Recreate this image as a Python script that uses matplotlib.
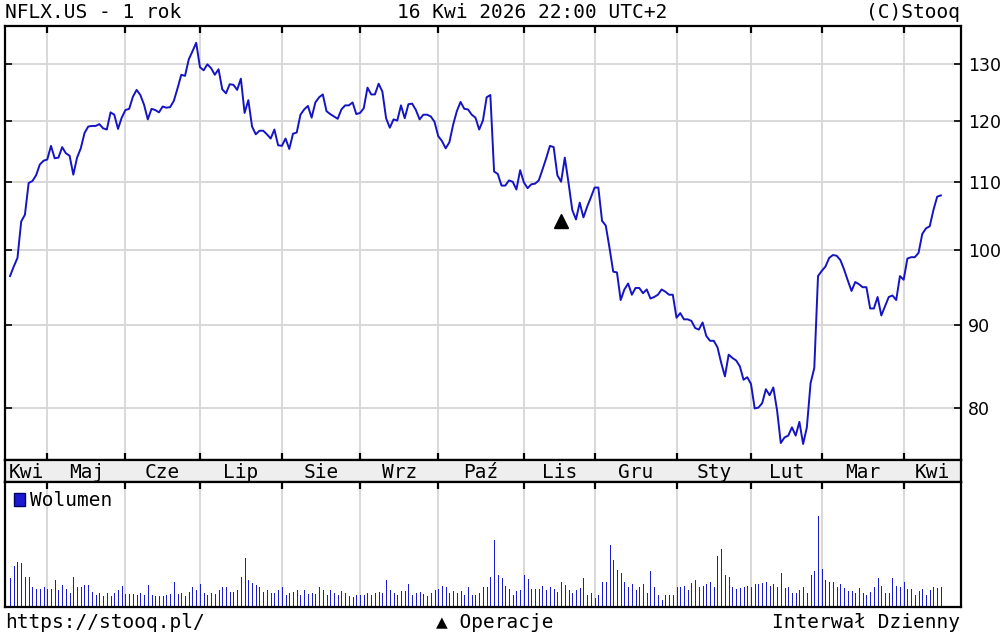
import numpy as np
import matplotlib.pyplot as plt
from matplotlib.patches import Rectangle
from matplotlib.ticker import FixedFormatter, NullLocator

# kursy zamkniecia NFLX.US, sesje od 16.04.2025 do 16.04.2026 (per miesiac)
close_kwi25 = [96.4, 97.7, 98.9, 104.1, 105.1, 109.9, 110.2, 111.1, 112.8, 113.4]
close_maj = [113.6, 115.8, 113.8, 113.9, 115.6, 114.6, 114.2, 111.2, 113.9, 115.4, 117.9,
             119.0, 119.1, 119.1, 119.4, 118.7, 118.5, 121.4, 121.0, 118.6, 120.5]
close_cze = [121.8, 122.0, 124.1, 125.3, 124.4, 122.7, 120.2, 122.0, 121.8, 121.4,
             122.4, 122.2, 122.3, 123.4, 125.6, 128.0, 127.8, 130.8, 132.3, 133.9]
close_lip = [129.4, 128.8, 129.9, 129.2, 128.0, 129.0, 125.4, 124.7, 126.3, 126.2, 125.3,
             127.3, 121.3, 123.5, 119.0, 117.7, 118.3, 118.3, 117.7, 117.0, 118.5, 115.9]
close_sie = [115.8, 117.0, 115.3, 117.8, 118.0, 121.0, 121.9, 122.5, 120.5, 123.1, 124.0,
             124.5, 121.6, 121.1, 120.7, 120.3, 121.9, 122.6, 122.6, 123.1, 121.1]
close_wrz = [121.3, 122.1, 125.7, 124.5, 124.5, 126.4, 125.0, 120.4, 118.8, 120.2, 120.0,
             122.6, 120.4, 122.8, 122.9, 121.8, 120.2, 121.0, 121.0, 120.7, 119.8]
close_paz = [117.4, 116.6, 115.4, 116.4, 119.3, 121.6, 123.2, 122.0, 121.9, 121.0, 120.5,
             118.5, 120.0, 124.0, 124.4, 111.7, 111.3, 109.5, 109.5, 110.3, 110.1, 108.9, 111.9]
close_lis = [110.0, 109.1, 109.7, 109.8, 110.3, 112.0, 113.8, 115.8, 115.6, 111.1,
             110.1, 113.9, 109.9, 105.8, 104.4, 106.9, 104.7, 106.3, 107.7]
close_gru = [109.2, 109.2, 104.2, 103.5, 100.3, 97.0, 96.9, 93.2, 94.6, 95.4, 93.9,
             94.8, 94.8, 94.1, 94.6, 93.4, 93.6, 93.9, 94.6, 94.3, 93.9, 93.9]
close_sty = [90.9, 91.5, 90.7, 90.7, 90.5, 89.6, 89.4, 90.3, 88.6, 88.0,
             88.0, 87.2, 85.3, 83.7, 86.3, 85.9, 85.6, 84.9, 83.3, 83.6]
close_lut = [82.8, 80.0, 80.1, 80.6, 82.2, 81.5, 82.4, 79.8, 76.2, 76.8,
             77.0, 77.9, 77.0, 78.5, 76.1, 77.9, 82.9, 84.7, 96.4]
close_mar = [97.1, 97.7, 98.9, 99.3, 99.2, 98.6, 97.3, 95.8, 94.4, 95.6, 95.3,
             94.9, 94.9, 92.1, 92.1, 93.6, 91.2, 92.4, 93.6, 93.8, 93.2, 96.4]
close_kwi26 = [95.9, 98.8, 99.0, 99.0, 99.6, 102.3, 103.1, 103.4, 105.8, 107.8, 108.0]

# wolumen (jednostki umowne)
vol_kwi25 = [80, 117, 129, 125, 85, 85, 53, 48, 48, 53]
vol_maj = [47, 48, 75, 45, 59, 47, 35, 85, 53, 53, 59, 59, 39, 30, 37, 27, 37, 27, 35, 45, 57]
vol_cze = [32, 32, 32, 29, 35, 29, 59, 30, 27, 27, 27, 29, 32, 69, 32, 37, 27, 38, 53, 45]
vol_lip = [62, 35, 29, 37, 32, 45, 53, 53, 39, 39, 45, 85, 140, 75, 67, 59, 55, 39, 45, 37, 35, 45]
vol_sie = [53, 30, 35, 39, 45, 30, 45, 32, 37, 32, 53, 45, 30, 45, 37, 30, 42, 35, 27, 25, 30]
vol_wrz = [30, 30, 35, 30, 35, 39, 37, 75, 45, 35, 30, 42, 42, 63, 30, 35, 39, 32, 27, 35, 45]
vol_paz = [49, 57, 53, 37, 42, 37, 42, 30, 53, 30, 30, 37, 53, 53, 85, 195, 91, 80, 57, 47, 30, 42, 45]
vol_lis = [90, 77, 48, 48, 48, 57, 45, 53, 48, 40, 70, 60, 45, 35, 45, 52, 80, 30, 35]
vol_gru = [20, 30, 70, 70, 180, 135, 105, 95, 70, 53, 63, 45, 53, 63, 35, 103, 53, 30, 15, 30, 30, 30]
vol_sty = [53, 53, 57, 45, 65, 75, 53, 57, 62, 70, 55, 147, 168, 90, 85, 53, 48, 50, 53, 57]
vol_lut = [53, 62, 62, 65, 70, 57, 62, 53, 97, 50, 53, 37, 37, 45, 53, 35, 90, 103, 267]
vol_mar = [108, 75, 70, 70, 53, 62, 50, 42, 42, 37, 50, 35, 30, 39, 53, 80, 57, 37, 37, 80, 57, 53]
vol_kwi26 = [70, 48, 48, 30, 42, 48, 30, 45, 53, 50, 53]

months = ['Kwi', 'Maj', 'Cze', 'Lip', 'Sie', 'Wrz', 'Paź', 'Lis', 'Gru', 'Sty', 'Lut', 'Mar', 'Kwi']
price_ticks = [80, 90, 100, 110, 120, 130]
split_day, split_mark = 148, 104.2   # operacja (split 10:1)

close_by_month = [close_kwi25, close_maj, close_cze, close_lip, close_sie, close_wrz, close_paz,
                  close_lis, close_gru, close_sty, close_lut, close_mar, close_kwi26]
vol_by_month = [vol_kwi25, vol_maj, vol_cze, vol_lip, vol_sie, vol_wrz, vol_paz,
                vol_lis, vol_gru, vol_sty, vol_lut, vol_mar, vol_kwi26]
close = np.concatenate(close_by_month)
volume = np.concatenate(vol_by_month)
x = np.arange(len(close))
starts = np.cumsum([0] + [len(m) for m in close_by_month])[:-1]
bounds = starts[1:]

W, H = 1005, 640
mono = 'DejaVu Sans Mono'
line_col = '#1414c4'
grid_col = '#d8d8d8'
xlim = (-1.35, 255.4)

fig = plt.figure(figsize=(W / 100, H / 100), dpi=100)
fig.patch.set_facecolor('white')


def box(l, t, r, b):
    return [l / W, 1 - b / H, (r - l) / W, (b - t) / H]


ax = fig.add_axes(box(5, 26, 961, 460))
band = fig.add_axes(box(5, 460, 961, 482))
axv = fig.add_axes(box(5, 482, 961, 607))

# --- cena ---
ax.plot(x, close, color=line_col, lw=1.4, zorder=3)
ax.plot([split_day], [split_mark], marker='^', color='black', markersize=10, zorder=4)
ax.set_yscale('log')
ax.set_ylim(74.4, 137.1)
ax.set_xlim(*xlim)
ax.yaxis.set_minor_locator(NullLocator())
ax.set_yticks(price_ticks)
ax.yaxis.set_major_formatter(FixedFormatter([str(t) for t in price_ticks]))
ax.set_xticks(bounds)
ax.tick_params(axis='y', which='both', direction='in', length=5, width=1.2,
               left=True, right=True, labelleft=False, labelright=True,
               labelsize=12.5, pad=5)
ax.tick_params(axis='x', direction='in', length=5, width=1.6, top=True, bottom=True,
               labelbottom=False)
ax.grid(True, color=grid_col, lw=1.4)
ax.set_axisbelow(True)
for lab in ax.get_yticklabels():
    lab.set_family('DejaVu Sans')

# --- pasek miesiecy ---
band.set_facecolor('#eeeeee')
band.set_xlim(*xlim)
band.set_ylim(0, 1)
band.set_xticks([])
band.set_yticks([])
edges = [xlim[0]] + list(bounds) + [xlim[1]]
for i, m in enumerate(months):
    band.text((edges[i] + edges[i + 1]) / 2, 0.45, m, ha='center', va='center',
              family=mono, fontsize=14)

# --- wolumen ---
axv.vlines(x, 0, volume, color='#1a1ad0', lw=0.6, antialiased=False, zorder=3)
axv.set_xlim(*xlim)
axv.set_ylim(-6, 369)
axv.set_yticks([])
axv.set_xticks(bounds)
axv.tick_params(axis='x', direction='in', length=5, width=1.6, top=True, bottom=False,
                labelbottom=False)
axv.grid(axis='x', color=grid_col, lw=1.4)
axv.set_axisbelow(True)

for a in (ax, band, axv):
    for s in a.spines.values():
        s.set_linewidth(1.6)
        s.set_color('black')

fig.patches.append(Rectangle((14 / W, 1 - 506 / H), 11 / W, 13 / H, transform=fig.transFigure,
                             facecolor='#1a1ad0', edgecolor='#000060', lw=1))
fig.text(30 / W, 1 - 500 / H, 'Wolumen', family=mono, fontsize=14, va='center', ha='left')

# --- naglowek i stopka ---
fig.text(5 / W, 1 - 12 / H, 'NFLX.US - 1 rok', family=mono, fontsize=14, va='center')
fig.text(532 / W, 1 - 12 / H, '16 Kwi 2026 22:00 UTC+2', family=mono, fontsize=14,
         va='center', ha='center')
fig.text(960 / W, 1 - 12 / H, '(C)Stooq', family=mono, fontsize=14, va='center', ha='right')
fig.text(5 / W, 1 - 622 / H, 'https://stooq.pl/', family=mono, fontsize=14, va='center')
fig.text(495 / W, 1 - 622 / H, '▲ Operacje', family=mono, fontsize=14, va='center', ha='center')
fig.text(960 / W, 1 - 622 / H, 'Interwał Dzienny', family=mono, fontsize=14, va='center',
         ha='right')

fig.savefig('out.png', dpi=100)
